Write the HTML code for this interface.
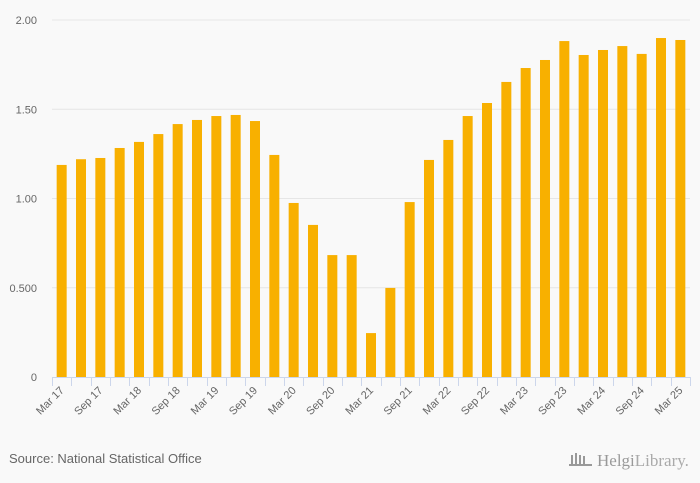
<!DOCTYPE html>
<html><head><meta charset="utf-8"><style>
body{margin:0;background:#f9f9f9;font-family:"Liberation Sans",sans-serif;}
svg{display:block}
</style></head><body>
<svg id="chart" width="700" height="483">
<rect width="700" height="483" fill="#f9f9f9"/>
<g id="grid"></g><g id="bars"></g><g id="xaxis"></g>
<text x="9" y="463" font-size="13" fill="#666">Source: National Statistical Office</text>
<g>
<g fill="#999"><rect x="571" y="455" width="2" height="9"/><rect x="575" y="453" width="2" height="11"/><rect x="579" y="455" width="2" height="9"/><rect x="583" y="456" width="2" height="8"/><rect x="569" y="464" width="23" height="2"/></g>
<text x="597" y="466" font-size="17" fill="#999" font-family="Liberation Serif, serif">Helgi<tspan font-weight="normal" fill="#aaa">Library.</tspan></text>
</g>
</svg>
<script>
const categories=["Mar 17","Jun 17","Sep 17","Dec 17","Mar 18","Jun 18","Sep 18","Dec 18","Mar 19","Jun 19","Sep 19","Dec 19","Mar 20","Jun 20","Sep 20","Dec 20","Mar 21","Jun 21","Sep 21","Dec 21","Mar 22","Jun 22","Sep 22","Dec 22","Mar 23","Jun 23","Sep 23","Dec 23","Mar 24","Jun 24","Sep 24","Dec 24","Mar 25"];
const values=[1.188,1.22,1.227,1.283,1.317,1.361,1.417,1.44,1.462,1.468,1.434,1.244,0.975,0.852,0.683,0.683,0.246,0.499,0.98,1.216,1.328,1.462,1.535,1.653,1.731,1.776,1.882,1.804,1.832,1.854,1.81,1.899,1.888];
const yTicks=[0,0.5,1,1.5,2];
const yTickLabels=["0","0.500","1.00","1.50","2.00"];
const NS="http://www.w3.org/2000/svg";
const x0=52,x1=690,yBase=377,yTop=20;
const step=(x1-x0)/categories.length;
function y(v){return yBase-(v/2)*(yBase-yTop);}
function xc(i){return x0+step*(i+0.5);}
function mk(t,a,p){const e=document.createElementNS(NS,t);for(const k in a)e.setAttribute(k,a[k]);p.appendChild(e);return e;}
const grid=document.getElementById('grid');
yTicks.forEach((v,i)=>{
 if(v>0){const l=mk('line',{x1:x0,x2:x1,y1:y(v),y2:y(v),stroke:'#e6e6e6'},grid);
 
 }
 const t=mk('text',{x:37,y:y(v)+4,'text-anchor':'end','font-size':11,fill:'#666'},grid);
 t.textContent=yTickLabels[i];
 
 
});
const bars=document.getElementById('bars');
values.forEach((v,i)=>{
 const r=mk('rect',{x:xc(i)-5,y:y(v),width:10,height:yBase-y(v),fill:'#f8b000'},bars);
 
 
});
const ax=document.getElementById('xaxis');
const al=mk('line',{x1:x0,x2:x1,y1:yBase+0.5,y2:yBase+0.5,stroke:'#ccd6eb'},ax);


for(let i=0;i<=categories.length;i++){
 const xx=Math.round(x0+step*i)+0.5;
 const tk=mk('line',{x1:xx,x2:xx,y1:yBase,y2:yBase+9,stroke:'#ccd6eb'},ax);
 
 
}
categories.forEach((c,i)=>{
 if(i%2)return;
 const X=xc(i)+3,Y=yBase+14;
 const t=mk('text',{x:X,y:Y,'text-anchor':'end','font-size':11,fill:'#666',transform:`rotate(-45 ${X} ${Y})`},ax);
 t.textContent=c;
 
 
});
</script>
</body></html>
